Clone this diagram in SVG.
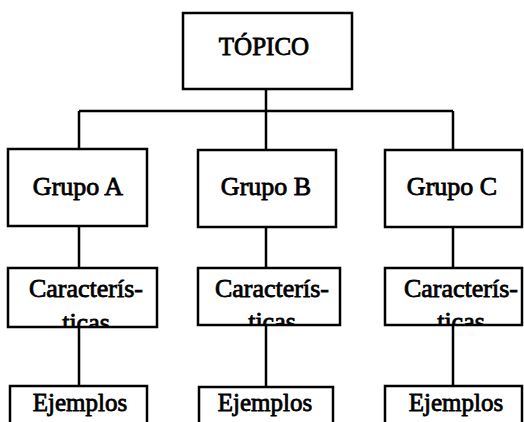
<svg xmlns="http://www.w3.org/2000/svg" width="524" height="422" viewBox="0 0 524 422">
<style>
.box{fill:#fff;stroke:#000;stroke-width:2.5}
.conn{fill:none;stroke:#000;stroke-width:2.5}
text{font-family:'Liberation Serif','DejaVu Serif',serif;fill:#000;stroke:#000;stroke-width:0.8;text-anchor:middle}
.t1{font-size:25px}
.t2{font-size:26px}
.t3{font-size:25px}
</style>
<defs>
<clipPath id="cA"><rect x="8" y="268" width="149" height="58"/></clipPath>
<clipPath id="cB"><rect x="198" y="268" width="142" height="56"/></clipPath>
<clipPath id="cC"><rect x="385" y="268" width="137" height="56"/></clipPath>
</defs>
<rect width="524" height="422" fill="#fff"/>
<g id="connectors">
<path class="conn" d="M266,89 V111 M79,111 H453 M79,111 V149 M266,111 V150 M453,111 V150"/>
<path class="conn" d="M79,226 V268 M266,227 V268 M453,227 V268"/>
<path class="conn" d="M79,327 V386 M266,325 V387 M453,325 V386"/>
</g>
<g id="topico">
<rect class="box" x="183" y="13" width="169" height="76"/>
<text class="t1" x="264" y="55" font-family="Liberation Serif, serif">TÓPICO</text>
</g>
<g id="grupoA">
<rect class="box" x="8" y="149" width="139" height="77"/>
<text class="t2" x="78" y="195" font-family="Liberation Serif, serif">Grupo A</text>
</g>
<g id="grupoB">
<rect class="box" x="198" y="150" width="138" height="77"/>
<text class="t2" x="266" y="195" font-family="Liberation Serif, serif">Grupo B</text>
</g>
<g id="grupoC">
<rect class="box" x="385" y="150" width="137" height="77"/>
<text class="t2" x="452" y="195" font-family="Liberation Serif, serif">Grupo C</text>
</g>
<g id="caracA">
<rect class="box" x="8" y="268" width="149" height="59"/>
<g clip-path="url(#cA)">
<text class="t2" x="86" y="297" font-family="Liberation Serif, serif">Caracterís-</text>
<text class="t2" x="86" y="331" font-family="Liberation Serif, serif">ticas</text>
</g>
</g>
<g id="caracB">
<rect class="box" x="198" y="268" width="142" height="57"/>
<g clip-path="url(#cB)">
<text class="t2" x="272" y="297" font-family="Liberation Serif, serif">Caracterís-</text>
<text class="t2" x="272" y="330" font-family="Liberation Serif, serif">ticas</text>
</g>
</g>
<g id="caracC">
<rect class="box" x="385" y="268" width="137" height="57"/>
<g clip-path="url(#cC)">
<text class="t2" x="461" y="297" font-family="Liberation Serif, serif">Caracterís-</text>
<text class="t2" x="461" y="330" font-family="Liberation Serif, serif">ticas</text>
</g>
</g>
<g id="ejemplosA">
<rect class="box" x="10" y="386" width="137" height="45"/>
<text class="t3" x="80" y="411" font-family="Liberation Serif, serif">Ejemplos</text>
</g>
<g id="ejemplosB">
<rect class="box" x="199" y="387" width="134" height="45"/>
<text class="t3" x="265" y="411" font-family="Liberation Serif, serif">Ejemplos</text>
</g>
<g id="ejemplosC">
<rect class="box" x="385" y="386" width="137" height="45"/>
<text class="t3" x="456" y="411" font-family="Liberation Serif, serif">Ejemplos</text>
</g>
</svg>
